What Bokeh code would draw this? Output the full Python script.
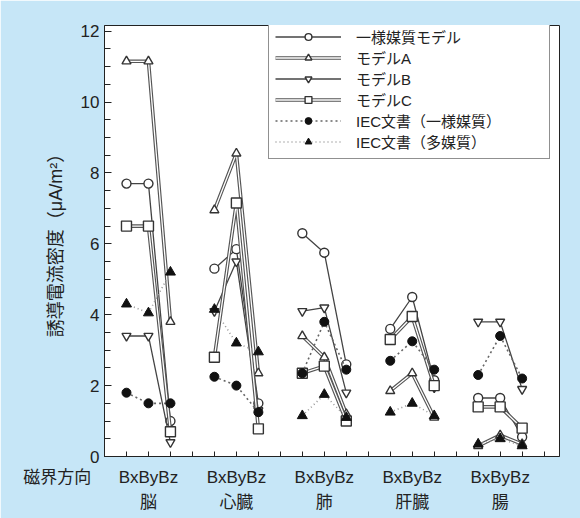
import numpy as np
from bokeh.plotting import figure
from bokeh.models import Range1d, FixedTicker, Legend, LegendItem, ColumnDataSource
from bokeh.embed import file_html
from bokeh.resources import INLINE

# ---- data -------------------------------------------------------------
organs = ["脳", "心臓", "肺", "肝臓", "腸"]
direction_text = "BxByBz"
x_axis_title = "磁界方向"
y_axis_title = "誘導電流密度（μA/m²）"
y_ticks = [0, 2, 4, 6, 8, 10, 12]

# order: for each organ Bx, By, Bz
uniform = [7.7, 7.7, 1.0,   5.3, 5.85, 1.5,   6.3, 5.75, 2.6,   3.6, 4.5, 2.15,   1.65, 1.65, 0.55]
model_a = [11.15, 11.15, 3.8, 6.95, 8.55, 2.35, 3.4, 2.8, 1.2,  1.85, 2.35, 1.1,   0.3, 0.6, 0.35]
model_b = [3.4, 3.4, 0.4,   4.1, 5.5, 1.3,    4.1, 4.2, 1.8,    3.3, 4.0, 1.95,    3.8, 3.8, 1.9]
model_c = [6.5, 6.5, 0.7,   2.8, 7.15, 0.78,  2.35, 2.55, 1.0,  3.3, 3.95, 2.0,    1.4, 1.4, 0.8]
iec_uniform = [1.8, 1.5, 1.5, 2.25, 2.0, 1.25, 2.35, 3.8, 2.45, 2.7, 3.25, 2.45,  2.3, 3.4, 2.2]
iec_multi = [4.3, 4.05, 5.2, 4.15, 3.2, 2.95, 1.15, 1.75, 1.1,  1.25, 1.5, 1.15,  0.35, 0.5, 0.3]

series_labels = ["一様媒質モデル", "モデルA", "モデルB", "モデルC",
                 "IEC文書（一様媒質）", "IEC文書（多媒質）"]

# ---- helpers ----------------------------------------------------------
def group_xy(vals):
    xs, ys = [], []
    for g in range(len(organs)):
        for d in range(3):
            xs.append(4 * g + 1 + d)
            ys.append(vals[3 * g + d])
        xs.append(np.nan)
        ys.append(np.nan)
    return ColumnDataSource(dict(x=xs, y=ys))

LAT = "Liberation Sans, Noto Sans CJK JP"
BG = "#c6e6f7"

p = figure(width=580, height=518, x_range=Range1d(0, 20.7), y_range=Range1d(0, 12.16),
           output_backend="svg", toolbar_location=None,
           min_border_left=104, min_border_right=21, min_border_top=25, min_border_bottom=62)
p.background_fill_color = "white"
p.border_fill_color = BG
p.outline_line_color = "#222222"
p.outline_line_width = 1
p.xgrid.visible = False
p.ygrid.visible = False

# x axis: major ticks at group centres carry the labels, minor ticks at every slot;
# the caption "磁界方向" hangs off the tick at the left edge (padded with
# ideographic spaces so that it sits left of the frame)
group_centres = [4 * g + 2 for g in range(len(organs))]
xa = p.xaxis[0]
xa.ticker = FixedTicker(ticks=[0] + group_centres,
                        minor_ticks=[i for i in range(1, 21) if i not in group_centres])
overrides = {c: direction_text + "\n" + name for c, name in zip(group_centres, organs)}
overrides[0] = x_axis_title + "\u3000" * 5 + "\u00a0\u00a0"
xa.major_label_overrides = overrides
xa.major_label_text_font = LAT
xa.major_label_text_font_size = "17px"
xa.major_label_text_color = "#222222"
xa.major_label_text_line_height = 1.35
xa.major_label_standoff = 11
xa.major_tick_in = 5
xa.major_tick_out = 0
xa.minor_tick_in = 5
xa.minor_tick_out = 0
xa.axis_line_color = "#222222"
xa.major_tick_line_color = "#222222"
xa.minor_tick_line_color = "#222222"

ya = p.yaxis[0]
ya.ticker = FixedTicker(ticks=y_ticks, minor_ticks=[v * 0.5 for v in range(0, 25)])
ya.major_tick_in = 7
ya.major_tick_out = 0
ya.minor_tick_in = 6
ya.minor_tick_out = 0
ya.major_label_standoff = 5
ya.major_label_text_font = "Liberation Sans"
ya.major_label_text_font_size = "17px"
ya.major_label_text_color = "#222222"
ya.axis_label = y_axis_title
ya.axis_label_text_font = LAT
ya.axis_label_text_font_size = "18px"
ya.axis_label_text_font_style = "normal"
ya.axis_label_text_color = "#222222"
ya.axis_label_standoff = 12
ya.axis_line_color = "#222222"
ya.major_tick_line_color = "#222222"
ya.minor_tick_line_color = "#222222"

# ---- series -----------------------------------------------------------
items = []

def add_series(vals, label, marker, double=False, dash=None, line_color="#444444",
               filled=False, size=9):
    src = group_xy(vals)
    rs = []
    if dash is not None:
        rs.append(p.line("x", "y", source=src, line_color=line_color, line_width=1.6,
                         line_dash=dash))
    elif double:
        rs.append(p.line("x", "y", source=src, line_color="#555555", line_width=3.6))
        rs.append(p.line("x", "y", source=src, line_color="white", line_width=1.3))
    else:
        rs.append(p.line("x", "y", source=src, line_color=line_color, line_width=1.3))
    if filled:
        m = p.scatter("x", "y", source=src, marker=marker, size=size,
                      fill_color="#111111", line_color="#111111")
    else:
        m = p.scatter("x", "y", source=src, marker=marker, size=size,
                      fill_color="white", line_color="#333333", line_width=1.4)
    rs.append(m)
    items.append(LegendItem(label=label, renderers=rs))

add_series(uniform, series_labels[0], "circle")
add_series(model_a, series_labels[1], "triangle", double=True)
add_series(model_b, series_labels[2], "inverted_triangle")
add_series(model_c, series_labels[3], "square", double=True, size=10)
add_series(iec_uniform, series_labels[4], "circle", dash="2 3", line_color="#666666",
           filled=True, size=9)
add_series(iec_multi, series_labels[5], "triangle", dash="1 3", line_color="#999999",
           filled=True, size=10)

legend = Legend(items=items, location=(164, 297))
legend.label_text_font = LAT
legend.label_text_font_size = "15px"
legend.label_text_color = "#222222"
legend.label_height = 17
legend.glyph_height = 17
legend.glyph_width = 66
legend.spacing = -2
legend.padding = 6
legend.margin = 0
legend.label_standoff = 15
legend.label_width = 187
legend.border_line_color = "#222222"
legend.border_line_width = 1
legend.background_fill_color = "white"
legend.background_fill_alpha = 1
p.add_layout(legend, "center")

open("out.html", "w").write(file_html(p, INLINE))
